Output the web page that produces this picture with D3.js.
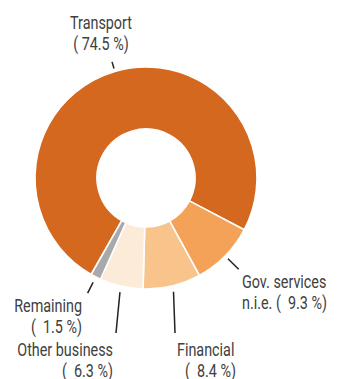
<!DOCTYPE html>
<html><head><meta charset="utf-8">
<script src="https://cdn.jsdelivr.net/npm/d3@7"></script>
<style>
html,body{margin:0;padding:0;background:#fff;}
svg{display:block;}
text{font-family:"Roboto","Liberation Sans",sans-serif;fill:#404040;}
</style></head>
<body><svg id="c" width="337" height="379"></svg>
<script>
const categories = ["Transport","Gov. services n.i.e.","Financial","Other business","Remaining"];
const shares = [74.5, 9.3, 8.4, 6.3, 1.5];
const colors = ["#d4681e","#f4a257","#f8c48b","#fdebd9","#a7a9ac"];
const labelLines = [["Transport","( 74.5 %)"],["Gov. services","n.i.e. (  9.3 %)"],["Financial","(  8.4 %)"],["Other business","(  6.3 %)"],["Remaining","(  1.5 %)"]];

const svg = d3.select("#c");
const cx = 146, cy = 178, R = 111, r0 = 49;
const g = svg.append("g").attr("transform", `translate(${cx},${cy})`);
const data = categories.map((c,i)=>({cat:c, v:shares[i], i}));
const startA = -150.4*Math.PI/180;
const pie = d3.pie().value(d=>d.v).sort(null).startAngle(startA).endAngle(startA+2*Math.PI);
const arcs = pie(data);
const arc = d3.arc().innerRadius(r0).outerRadius(R);
g.selectAll("path").data(arcs).join("path")
  .attr("d", arc).attr("fill", d=>colors[d.data.i])
  .attr("stroke","#fff").attr("stroke-width",1.6).attr("stroke-linejoin","round");

const FS = 18;
const probe = svg.append("text").attr("font-size",FS).text("Transport");
const sx = 62 / probe.node().getComputedTextLength();
probe.remove();

const layout = [
  {r1:114, r2:121, tx:101, ty:29, anchor:"middle"},
  {r1:115, r2:130, tx:242, ty:288, anchor:"start"},
  {r1:117, end:[175,333], tx:177, ty:356, anchor:"start", tx2:236, anchor2:"end"},
  {r1:117, end:[116,333], tx:113, ty:356, anchor:"end"},
  {r1:117, r2:129, tx:82, ty:312, anchor:"end"}
];
const pt = (a, rr) => [Math.sin(a)*rr, -Math.cos(a)*rr];
function addText(x, y, anchor, s){
  svg.append("g").attr("transform",`translate(${x},${y}) scale(${sx},1)`)
    .append("text").attr("text-anchor",anchor).attr("font-size",FS)
    .style("white-space","pre").text(s);
}
arcs.forEach((d,k)=>{
  const L = layout[k];
  const m = (d.startAngle + d.endAngle)/2;
  const p1 = pt(m, L.r1);
  const p2 = L.end ? [L.end[0]-cx, L.end[1]-cy] : pt(m, L.r2);
  g.append("line").attr("x1",p1[0]).attr("y1",p1[1]).attr("x2",p2[0]).attr("y2",p2[1])
    .attr("stroke","#222").attr("stroke-width",1.5);
  const lines = labelLines[d.data.i];
  addText(L.tx, L.ty, L.anchor, lines[0]);
  addText(L.tx2 || L.tx, L.ty+21, L.anchor2 || L.anchor, lines[1]);
});
</script></body></html>
